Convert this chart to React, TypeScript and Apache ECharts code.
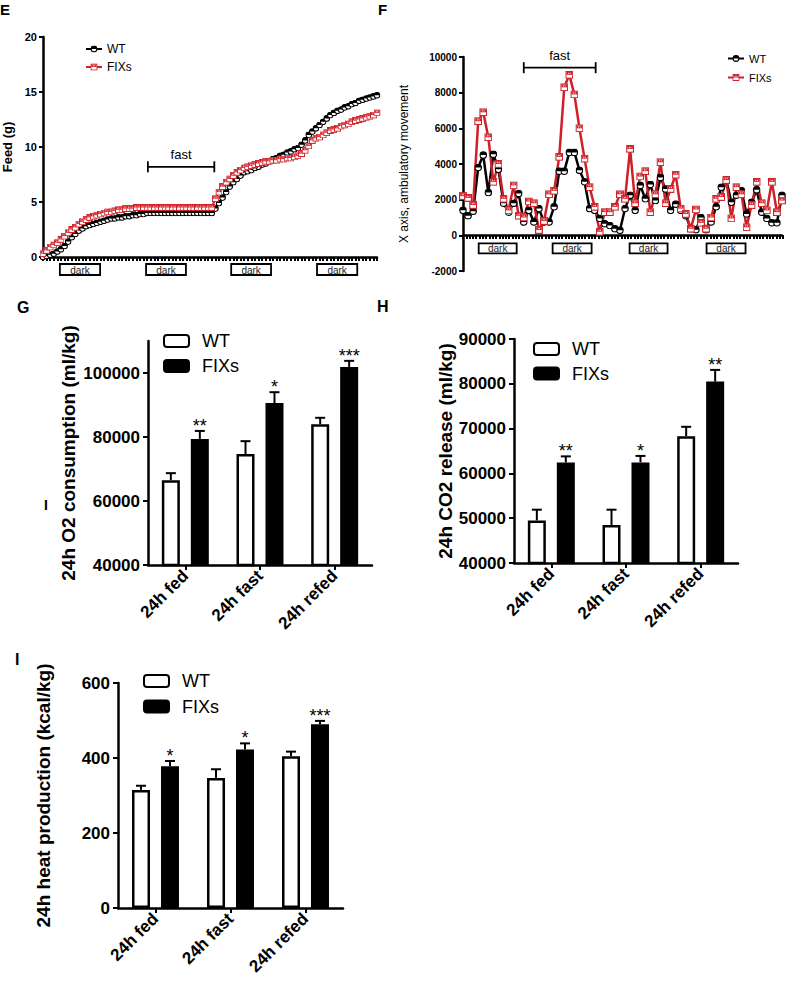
import React, { useEffect, useRef } from "react";
import * as echarts from "echarts";

const FONT = "'Liberation Sans', Arial, Helvetica, sans-serif";
const RED = "#cf2027";

// ---------- Panel E: cumulative feed (g), hourly ----------
const feedWT = [
  0.0, 0.1, 0.2, 0.3, 0.5, 0.7, 1.0, 1.4, 1.8, 2.1,
  2.4, 2.6, 2.8, 2.9, 3.0, 3.1, 3.2, 3.3, 3.4, 3.5,
  3.5, 3.6, 3.6, 3.7, 3.7, 3.8, 3.8, 3.9, 3.9, 4.0,
  4.0, 4.0, 4.0, 4.0, 4.0, 4.0, 4.0, 4.0, 4.0, 4.0,
  4.0, 4.0, 4.0, 4.0, 4.0, 4.0, 4.0, 4.0, 4.4, 4.9,
  5.4, 5.9, 6.4, 6.8, 7.1, 7.4, 7.7, 7.8, 7.9, 8.1,
  8.2, 8.4, 8.5, 8.7, 8.9, 9.0, 9.2, 9.3, 9.5, 9.6,
  9.8, 9.9, 10.2, 10.6, 11.1, 11.4, 11.7, 12.0, 12.3, 12.6,
  12.9, 13.1, 13.3, 13.4, 13.6, 13.7, 13.9, 14.0, 14.2, 14.3,
  14.4, 14.5, 14.6, 14.7,
];
const feedFIX = [
  0.3, 0.6, 0.9, 1.1, 1.3, 1.6, 1.9, 2.2, 2.5, 2.7,
  3.0, 3.2, 3.4, 3.6, 3.7, 3.8, 3.9, 4.0, 4.1, 4.1,
  4.2, 4.3, 4.3, 4.4, 4.4, 4.4, 4.5, 4.5, 4.5, 4.5,
  4.5, 4.5, 4.5, 4.5, 4.5, 4.5, 4.5, 4.5, 4.5, 4.5,
  4.5, 4.5, 4.5, 4.5, 4.5, 4.5, 4.5, 4.5, 5.3, 5.9,
  6.4, 6.8, 7.1, 7.4, 7.7, 7.9, 8.1, 8.2, 8.3, 8.4,
  8.5, 8.6, 8.7, 8.7, 8.8, 8.8, 8.9, 8.9, 9.0, 9.0,
  9.1, 9.2, 9.4, 9.7, 10.1, 10.6, 10.8, 10.9, 11.1, 11.3,
  11.5, 11.6, 11.7, 11.9, 12.0, 12.1, 12.3, 12.4, 12.5, 12.6,
  12.7, 12.8, 12.9, 13.1,
];
const feedTicks = [0, 5, 10, 15, 20];
const feedDark = [[4.7, 15.9], [28.7, 39.8], [52.4, 63.5], [76.3, 87.5]];
const feedFast = [29.2, 47.7];
const feedFastLevel = 8.2;

// ---------- Panel F: X axis ambulatory movement ----------
const moveWT = [
  1400, 1100, 1350, 3800, 4500, 2400, 4550, 3700, 1800, 1300,
  1800, 2350, 750, 1400, 750, 1500, 750, 750, 1600, 3600,
  3600, 4650, 4650, 3650, 3000, 1500, 1400, 950, 650, 550,
  370, 280, 1500, 2250, 1400, 2800, 2050, 2850, 1950, 3250,
  2600, 1400, 1750, 1400, 1100, 370, 320, 1000, 320, 750,
  1600, 2700, 3100, 1850, 2250, 2500, 1200, 1850, 2550, 1300,
  950, 700, 700, 2250,
];
const moveFIX = [
  2200, 2100, 1700, 6400, 6900, 5500, 3000, 4000, 2050, 1400,
  2800, 1100, 1000, 1900, 1800, 300, 800, 2300, 2500, 4400,
  8300, 9000, 7900, 6000, 4300, 2700, 1600, 200, 1300, 1300,
  1600, 2300, 2050, 4850, 1800, 3300, 3600, 1300, 2300, 4100,
  1800, 2600, 3400, 1500, 1200, 370, 1450, 700, 370, 1000,
  2050, 2150, 3100, 950, 2700, 2300, 450, 1700, 3000, 1800,
  1400, 3000, 1300, 1950,
];
const moveDark = [[3.1, 10.6], [17.7, 25.4], [32.9, 40.4], [48.1, 55.8]];
const moveFast = [12.0, 26.2];
const moveFastLevel = 9400;
const moveHourTicks = 97;

// ---------- Bar panels ----------
const barCats = ["24h fed", "24h fast", "24h refed"];

const o2WT = [66500, 74700, 84000];
const o2WTsem = [2200, 4000, 2000];
const o2FIX = [79400, 90600, 101900];
const o2FIXsem = [2500, 3400, 1900];
const o2Stars = ["**", "*", "***"];
const o2Ticks = [40000, 60000, 80000, 100000];

const co2WT = [49500, 48500, 68300];
const co2WTsem = [2400, 3400, 2100];
const co2FIX = [62450, 62450, 80500];
const co2FIXsem = [1350, 1450, 2600];
const co2Stars = ["**", "*", "**"];
const co2Ticks = [40000, 50000, 60000, 70000, 80000, 90000];

const heatWT = [315, 347, 405];
const heatWTsem = [11, 23, 12];
const heatFIX = [378, 423, 490];
const heatFIXsem = [14, 16, 9];
const heatStars = ["*", "*", "***"];
const heatTicks = [0, 200, 400, 600];

const BAR_W = 18;
const BAR_GAP = 0.61;
const OFF = (BAR_W + BAR_W * BAR_GAP) / 2;

// half-filled circle (WT) and red square with white notch (FIXs) markers
const svgUrl = (s: string) => "image://data:image/svg+xml;charset=utf-8," + encodeURIComponent(s);
const WT_SYMBOL = svgUrl(
  "<svg xmlns='http://www.w3.org/2000/svg' width='20' height='20' viewBox='0 0 20 20'>" +
    "<circle cx='10' cy='10' r='8' fill='white' stroke='black' stroke-width='3'/>" +
    "<path d='M2 10 A8 8 0 0 1 18 10 Z' fill='black'/></svg>"
);
const FIX_SYMBOL = svgUrl(
  "<svg xmlns='http://www.w3.org/2000/svg' width='20' height='20' viewBox='0 0 20 20'>" +
    `<rect x='1.5' y='1.5' width='17' height='17' fill='white' stroke='${RED}' stroke-width='3'/>` +
    `<rect x='3' y='3' width='14' height='7' fill='${RED}'/>` +
    "<rect x='7' y='5' width='2' height='3' fill='white'/><rect x='11' y='5' width='2' height='3' fill='white'/></svg>"
);

const legendName = (n: string) => n.split("_")[0];

function txt(text: string, x: number, y: number, size: number, opts: any = {}) {
  return {
    type: "text",
    x,
    y,
    silent: true,
    style: {
      text,
      fill: opts.fill || "#000",
      fontSize: size,
      fontWeight: opts.weight || "normal",
      fontFamily: FONT,
      align: opts.align || "center",
      textAlign: opts.align || "center",
      verticalAlign: "middle",
      textVerticalAlign: "middle",
    },
  };
}

function errRender(offset: number, stars: string[]) {
  return (params: any, api: any) => {
    const ci = api.value(0);
    const base = api.coord([ci, api.value(1)]);
    const top = api.coord([ci, api.value(2)]);
    const x = top[0] + offset;
    const children: any[] = [
      { type: "line", shape: { x1: x, y1: base[1], x2: x, y2: top[1] }, style: { stroke: "#000", lineWidth: 2 } },
      { type: "line", shape: { x1: x - 5, y1: top[1], x2: x + 5, y2: top[1] }, style: { stroke: "#000", lineWidth: 2 } },
    ];
    const s = stars[params.dataIndex];
    if (s) children.push(txt(s, x, top[1] - 5, 18));
    return { type: "group", children };
  };
}

function barSeries(tag: string, axis: number, wt: number[], wtSem: number[], fx: number[], fxSem: number[], stars: string[]) {
  return [
    {
      type: "bar", name: "WT_" + tag, xAxisIndex: axis, yAxisIndex: axis, data: wt,
      barWidth: BAR_W, barGap: BAR_GAP * 100 + "%",
      itemStyle: { color: "#fff", borderColor: "#000", borderWidth: 2.5 },
    },
    {
      type: "bar", name: "FIXs_" + tag, xAxisIndex: axis, yAxisIndex: axis, data: fx,
      barWidth: BAR_W, barGap: BAR_GAP * 100 + "%",
      itemStyle: { color: "#000", borderColor: "#000", borderWidth: 2 },
    },
    {
      type: "custom", xAxisIndex: axis, yAxisIndex: axis, z: 3,
      data: wt.map((v, i) => [i, v, v + wtSem[i]]),
      encode: { x: 0, y: [1, 2] },
      renderItem: errRender(-OFF, []),
    },
    {
      type: "custom", xAxisIndex: axis, yAxisIndex: axis, z: 3,
      data: fx.map((v, i) => [i, v, v + fxSem[i]]),
      encode: { x: 0, y: [1, 2] },
      renderItem: errRender(OFF, stars),
    },
  ];
}

function barXAxis(grid: number) {
  return {
    type: "category", gridIndex: grid, data: barCats,
    axisLine: { lineStyle: { color: "#000", width: 2.5 } },
    axisTick: { show: true, alignWithLabel: true, length: 5, lineStyle: { color: "#000", width: 2 } },
    axisLabel: { rotate: 45, interval: 0, fontSize: 17, fontWeight: "bold", color: "#000", margin: 8, fontFamily: FONT },
    splitLine: { show: false },
  };
}

function barYAxis(grid: number, min: number, max: number, ticks: number[], name: string, gap: number) {
  return {
    type: "value", gridIndex: grid, min, max,
    axisLine: { show: true, lineStyle: { color: "#000", width: 2.5 } },
    axisTick: { show: true, length: 5, customValues: ticks, lineStyle: { color: "#000", width: 2 } },
    axisLabel: { customValues: ticks, fontSize: 17, fontWeight: "bold", color: "#000", margin: 8, fontFamily: FONT, formatter: (v: number) => String(v) },
    splitLine: { show: false },
    name, nameLocation: "middle", nameRotate: 90, nameGap: gap,
    nameTextStyle: { fontSize: 19, fontWeight: "bold", color: "#000", fontFamily: FONT },
  };
}

function barLegend(tag: string, left: number, top: number, gap: number) {
  return {
    data: ["WT_" + tag, "FIXs_" + tag], left, top, orient: "vertical", padding: 0,
    itemWidth: 25, itemHeight: 12, itemGap: gap, icon: "roundRect", selectedMode: false,
    formatter: legendName,
    textStyle: { fontSize: 18, color: "#000", fontFamily: FONT, padding: [0, 0, 0, 8] },
  };
}

function buildOption(): any {
  const feedCats = feedWT.map((_, i) => String(i));
  const moveCats = moveWT.map((_, i) => String(i));
  return {
    animation: false,
    backgroundColor: "#fff",
    textStyle: { fontFamily: FONT },
    grid: [
      { left: 43, top: 37, width: 334, height: 220 },
      { left: 463, top: 57, width: 319, height: 214 },
      { left: 463, top: 234, width: 320, height: 1 },
      { left: 148, top: 341, width: 224, height: 224 },
      { left: 514, top: 339, width: 224, height: 224 },
      { left: 118, top: 683, width: 225, height: 225 },
    ],
    xAxis: [
      {
        type: "category", gridIndex: 0, data: feedCats, boundaryGap: false,
        axisLine: { lineStyle: { color: "#000", width: 2.5 } },
        axisTick: { show: true, interval: 0, length: 4, lineStyle: { color: "#000", width: 2 } },
        axisLabel: { show: false }, splitLine: { show: false },
      },
      {
        type: "category", gridIndex: 1, data: moveCats, boundaryGap: false,
        axisLine: { onZero: true, lineStyle: { color: "#000", width: 2.5 } },
        axisTick: { show: false }, axisLabel: { show: false }, splitLine: { show: false },
      },
      {
        type: "value", gridIndex: 2, min: 0, max: moveHourTicks, interval: 1,
        axisLine: { show: false },
        axisTick: { show: true, length: 4, lineStyle: { color: "#000", width: 2 } },
        axisLabel: { show: false }, splitLine: { show: false },
      },
      barXAxis(3),
      barXAxis(4),
      barXAxis(5),
    ],
    yAxis: [
      {
        type: "value", gridIndex: 0, min: 0, max: 20, interval: 5,
        axisLine: { show: true, lineStyle: { color: "#000", width: 2.5 } },
        axisTick: { show: true, length: 4, customValues: feedTicks, lineStyle: { color: "#000", width: 2 } },
        axisLabel: { fontSize: 11, fontWeight: "bold", color: "#000", margin: 6, fontFamily: FONT },
        splitLine: { show: false },
        name: "Feed (g)", nameLocation: "middle", nameRotate: 90, nameGap: 29,
        nameTextStyle: { fontSize: 13, fontWeight: "bold", color: "#000", fontFamily: FONT },
      },
      {
        type: "value", gridIndex: 1, min: -2000, max: 10000, interval: 2000,
        axisLine: { show: true, lineStyle: { color: "#000", width: 2.5 } },
        axisTick: { show: true, length: 4, lineStyle: { color: "#000", width: 2 } },
        axisLabel: { fontSize: 10, fontWeight: "bold", color: "#000", margin: 6, fontFamily: FONT, formatter: (v: number) => String(v) },
        splitLine: { show: false },
        name: "X axis, ambulatory movement", nameLocation: "middle", nameRotate: 90, nameGap: 53,
        nameTextStyle: { fontSize: 12, color: "#000", fontFamily: FONT },
      },
      { type: "value", gridIndex: 2, show: false, min: 0, max: 1 },
      barYAxis(3, 40000, 110000, o2Ticks, "24h O2 consumption (ml/kg)", 70),
      barYAxis(4, 40000, 90000, co2Ticks, "24h CO2 release (ml/kg)", 59),
      barYAxis(5, 0, 600, heatTicks, "24h heat production (kcal/kg)", 65),
    ],
    legend: [
      {
        data: ["WT_E", "FIXs_E"], left: 85, top: 43, orient: "vertical", padding: 0,
        itemWidth: 16, itemHeight: 9, itemGap: 6, selectedMode: false, formatter: legendName,
        textStyle: { fontSize: 12, color: "#000", fontFamily: FONT },
      },
      {
        data: ["WT_F", "FIXs_F"], left: 727, top: 53, orient: "vertical", padding: 0,
        itemWidth: 16, itemHeight: 9, itemGap: 8, selectedMode: false, formatter: legendName,
        textStyle: { fontSize: 11, color: "#000", fontFamily: FONT },
      },
      barLegend("G", 163, 332, 7),
      barLegend("H", 533, 340, 6.5),
      barLegend("I", 143, 672, 7.5),
    ],
    series: [
      {
        type: "line", name: "WT_E", xAxisIndex: 0, yAxisIndex: 0, data: feedWT,
        symbol: WT_SYMBOL, symbolSize: 7, showAllSymbol: true,
        lineStyle: { color: "#000", width: 2 },
        itemStyle: { color: "#000" },
      },
      {
        type: "line", name: "FIXs_E", xAxisIndex: 0, yAxisIndex: 0, data: feedFIX,
        symbol: FIX_SYMBOL, symbolSize: 7, showAllSymbol: true,
        lineStyle: { color: RED, width: 2 },
        itemStyle: { color: RED },
      },
      {
        type: "line", name: "WT_F", xAxisIndex: 1, yAxisIndex: 1, data: moveWT,
        symbol: WT_SYMBOL, symbolSize: 8, showAllSymbol: true,
        lineStyle: { color: "#000", width: 2.5 },
        itemStyle: { color: "#000" },
      },
      {
        type: "line", name: "FIXs_F", xAxisIndex: 1, yAxisIndex: 1, data: moveFIX,
        symbol: FIX_SYMBOL, symbolSize: 8, showAllSymbol: true,
        lineStyle: { color: RED, width: 2.5 },
        itemStyle: { color: RED },
      },
      ...barSeries("G", 3, o2WT, o2WTsem, o2FIX, o2FIXsem, o2Stars),
      ...barSeries("H", 4, co2WT, co2WTsem, co2FIX, co2FIXsem, co2Stars),
      ...barSeries("I", 5, heatWT, heatWTsem, heatFIX, heatFIXsem, heatStars),
    ],
  };
}

function buildGraphics(chart: any) {
  const xPix = (ax: number, v: number) => {
    const p0 = chart.convertToPixel({ xAxisIndex: ax }, 0) as number;
    const p1 = chart.convertToPixel({ xAxisIndex: ax }, 1) as number;
    return p0 + (p1 - p0) * v;
  };
  const yPix = (ax: number, v: number) => chart.convertToPixel({ yAxisIndex: ax }, v) as number;
  const els: any[] = [];
  const dark = (ax: number, ranges: number[][], gap: number, h: number) => {
    const y0 = yPix(ax, 0) + gap;
    ranges.forEach(([a, b]) => {
      const x1 = xPix(ax, a);
      const x2 = xPix(ax, b);
      els.push({ type: "rect", silent: true, shape: { x: x1, y: y0, width: x2 - x1, height: h }, style: { fill: "#fff", stroke: "#000", lineWidth: 1.8 } });
      els.push(txt("dark", (x1 + x2) / 2, y0 + h / 2 + 0.5, 10, { fill: "#222" }));
    });
  };
  const fast = (ax: number, range: number[], level: number) => {
    const x1 = xPix(ax, range[0]);
    const x2 = xPix(ax, range[1]);
    const y = yPix(ax, level);
    const ls = { stroke: "#000", lineWidth: 1.8 };
    els.push({ type: "line", silent: true, shape: { x1, y1: y, x2, y2: y }, style: ls });
    els.push({ type: "line", silent: true, shape: { x1, y1: y - 5.5, x2: x1, y2: y + 5.5 }, style: ls });
    els.push({ type: "line", silent: true, shape: { x1: x2, y1: y - 5.5, x2, y2: y + 5.5 }, style: ls });
    els.push(txt("fast", (x1 + x2) / 2, y - 12, 13));
  };
  dark(0, feedDark, 7, 11);
  dark(1, moveDark, 8, 10);
  fast(0, feedFast, feedFastLevel);
  fast(1, moveFast, moveFastLevel);
  els.push(txt("E", 0, 9, 15, { weight: "bold", align: "left" }));
  els.push(txt("F", 378, 9, 15, { weight: "bold", align: "left" }));
  els.push(txt("G", 17, 307.5, 16, { weight: "bold", align: "left" }));
  els.push(txt("H", 377, 306, 16, { weight: "bold", align: "left" }));
  els.push(txt("I", 44, 505, 14, { weight: "bold", align: "left" }));
  els.push(txt("I", 15, 659, 16, { weight: "bold", align: "left" }));
  return els;
}

export default function App() {
  const ref = useRef<HTMLDivElement>(null);
  useEffect(() => {
    if (!ref.current) return;
    const chart = echarts.init(ref.current, null, { renderer: "svg" });
    chart.setOption(buildOption());
    chart.setOption({ graphic: buildGraphics(chart) });
    return () => chart.dispose();
  }, []);
  return (
    <div
      ref={ref}
      style={{ position: "absolute", left: 0, top: 0, width: 788, height: 983, background: "#fff" }}
    />
  );
}
